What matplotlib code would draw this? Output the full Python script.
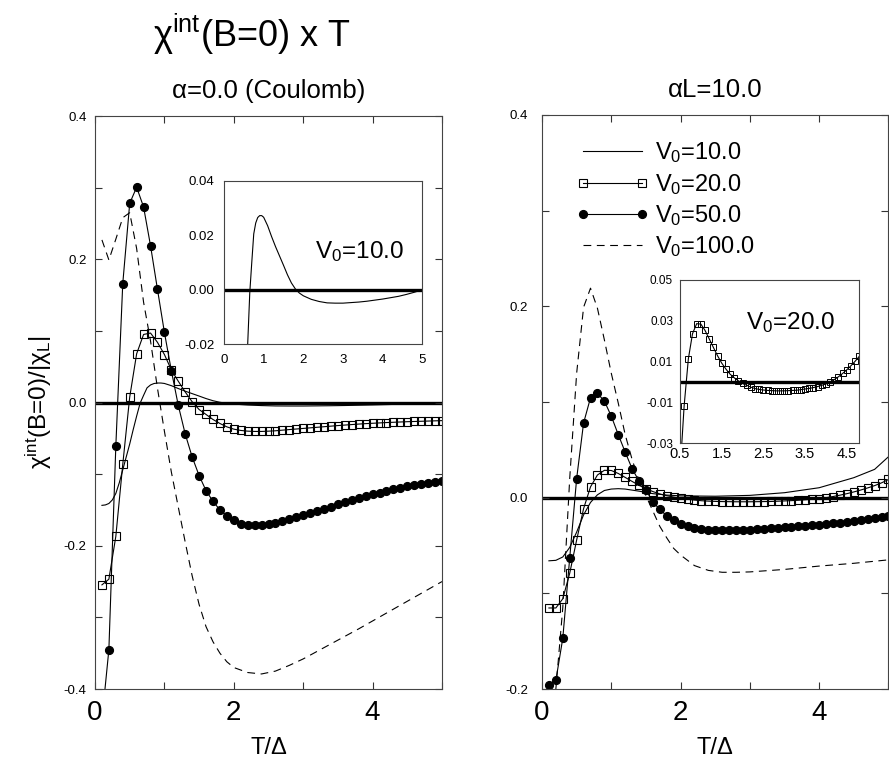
import matplotlib
matplotlib.use('Agg')
import matplotlib.pyplot as plt
from matplotlib.ticker import MultipleLocator, FixedLocator

plt.rcParams['font.family'] = ['Liberation Sans', 'DejaVu Sans']
plt.rcParams['mathtext.fontset'] = 'custom'
plt.rcParams['mathtext.rm'] = 'Liberation Sans'
plt.rcParams['mathtext.it'] = 'Liberation Sans:italic'
plt.rcParams['mathtext.default'] = 'rm'

# ---------------- data ----------------
T = [0.1, 0.2, 0.3, 0.4, 0.5, 0.6, 0.7, 0.8, 0.9, 1.0,
     1.1, 1.2, 1.3, 1.4, 1.5, 1.6, 1.7, 1.8, 1.9, 2.0,
     2.1, 2.2, 2.3, 2.4, 2.5, 2.6, 2.7, 2.8, 2.9, 3.0,
     3.1, 3.2, 3.3, 3.4, 3.5, 3.6, 3.7, 3.8, 3.9, 4.0,
     4.1, 4.2, 4.3, 4.4, 4.5, 4.6, 4.7, 4.8, 4.9, 5.0]

# alpha = 0.0 (Coulomb)
T_c10 = [0.1, 0.15, 0.2, 0.25, 0.3, 0.35, 0.4, 0.45, 0.5, 0.55, 0.6, 0.65, 0.7,
         0.75, 0.8, 0.85, 0.9, 0.95, 1.0, 1.1, 1.2, 1.3, 1.4, 1.5, 1.6, 1.7, 1.8,
         1.9, 2.0, 2.2, 2.4, 2.6, 2.8, 3.0, 3.2, 3.4, 3.6, 3.8, 4.0, 4.2, 4.4,
         4.6, 4.8, 5.0]
c_v10 = [-0.1436, -0.143, -0.141, -0.136, -0.127, -0.112, -0.094, -0.076, -0.058,
         -0.038, -0.019, -0.001, 0.010, 0.0205, 0.0245, 0.0265, 0.0272, 0.0272,
         0.0266, 0.0235, 0.0195, 0.0158, 0.0124, 0.009, 0.0055, 0.0025, 0.0003,
         -0.0012, -0.0022, -0.0035, -0.0043, -0.0048, -0.0049, -0.0049, -0.0047,
         -0.0045, -0.0042, -0.0038, -0.0034, -0.0029, -0.0024, -0.0017, -0.0009, 0.0]
c_v20 = [-0.2546, -0.2467, -0.187, -0.0864, 0.0075, 0.068, 0.095, 0.097, 0.084, 0.067,
         0.0455, 0.0297, 0.0147, 0.001, -0.0098, -0.0167, -0.0237, -0.0293, -0.034, -0.0372,
         -0.039, -0.040, -0.0404, -0.0404, -0.040, -0.0395, -0.0386, -0.0378, -0.037, -0.0362,
         -0.0354, -0.0346, -0.0338, -0.033, -0.0322, -0.0315, -0.0308, -0.0301, -0.0295, -0.029,
         -0.0285, -0.028, -0.0276, -0.0272, -0.0268, -0.0265, -0.0262, -0.0259, -0.0256, -0.0253]
c_v50 = [-0.443, -0.345, -0.061, 0.166, 0.278, 0.3006, 0.273, 0.219, 0.158, 0.098,
         0.0445, -0.004, -0.044, -0.076, -0.102, -0.123, -0.138, -0.150, -0.158, -0.164,
         -0.169, -0.171, -0.1714, -0.1710, -0.1697, -0.1678, -0.1655, -0.1630, -0.1603, -0.1574,
         -0.1544, -0.1514, -0.1484, -0.1454, -0.1424, -0.1394, -0.1365, -0.1337, -0.1310, -0.1284,
         -0.1259, -0.1235, -0.1212, -0.1190, -0.1170, -0.1152, -0.1136, -0.1121, -0.1107, -0.1094]
T_c100 = [0.1, 0.2, 0.3, 0.4, 0.5, 0.6, 0.7, 0.8, 0.9, 1.0, 1.1, 1.2, 1.3, 1.4, 1.5,
          1.6, 1.7, 1.8, 1.9, 2.0, 2.2, 2.4, 2.6, 2.8, 3.0, 3.4, 3.8, 4.2, 4.6, 5.0]
c_v100 = [0.227, 0.199, 0.228, 0.258, 0.265, 0.215, 0.140, 0.086, 0.020, -0.040,
          -0.097, -0.146, -0.195, -0.242, -0.282, -0.313, -0.334, -0.350, -0.362, -0.370,
          -0.377, -0.379, -0.375, -0.367, -0.358, -0.337, -0.316, -0.294, -0.272, -0.250]

# alpha L = 10.0
T_l10 = [0.1, 0.2, 0.3, 0.4, 0.5, 0.6, 0.7, 0.8, 0.9, 1.0, 1.1, 1.2, 1.4, 1.6, 1.8,
         2.0, 2.5, 3.0, 3.5, 4.0, 4.5, 4.8, 5.0]
l_v10 = [-0.066, -0.0655, -0.062, -0.052, -0.036, -0.018, -0.005, 0.003, 0.0075, 0.009,
         0.0094, 0.009, 0.0068, 0.0042, 0.0027, 0.0019, 0.0015, 0.0024, 0.0052, 0.0104,
         0.0209, 0.0296, 0.0428]
l_v20 = [-0.1153, -0.1153, -0.1057, -0.079, -0.0443, -0.0115, 0.0113, 0.0237, 0.0286, 0.0284,
         0.0253, 0.0212, 0.017, 0.0129, 0.0093, 0.0064, 0.0039, 0.0021, 0.0006, -0.0007,
         -0.0016, -0.0025, -0.0032, -0.0036, -0.0039, -0.0041, -0.0042, -0.0043, -0.0043, -0.0043,
         -0.0042, -0.0041, -0.0040, -0.0037, -0.0034, -0.0031, -0.0027, -0.0022, -0.0016, -0.0009,
         0.0, 0.0012, 0.0026, 0.0042, 0.006, 0.008, 0.0102, 0.0126, 0.0155, 0.019]
l_v50 = [-0.1957, -0.191, -0.147, -0.063, 0.020, 0.078, 0.1044, 0.109, 0.101, 0.0852,
         0.066, 0.0477, 0.0303, 0.0174, 0.008, -0.0046, -0.0122, -0.019, -0.0234, -0.0279,
         -0.030, -0.0317, -0.0328, -0.0334, -0.0338, -0.0341, -0.0341, -0.0338, -0.0336, -0.0334,
         -0.033, -0.0326, -0.0321, -0.0316, -0.0311, -0.0306, -0.0301, -0.0296, -0.029, -0.0284,
         -0.0277, -0.027, -0.0262, -0.0254, -0.0246, -0.0237, -0.0227, -0.0217, -0.0205, -0.0192]
T_l100 = [0.1, 0.2, 0.3, 0.4, 0.5, 0.6, 0.7, 0.8, 0.9, 1.0, 1.1, 1.2, 1.3, 1.4, 1.5,
          1.6, 1.7, 1.8, 1.9, 2.0, 2.2, 2.4, 2.6, 2.8, 3.0, 3.5, 4.0, 4.5, 5.0]
l_v100 = [-0.23, -0.2, -0.115, 0.02, 0.13, 0.199, 0.219, 0.198, 0.165, 0.130,
          0.099, 0.066, 0.040, 0.018, 0.002, -0.014, -0.030, -0.042, -0.053, -0.060,
          -0.071, -0.076, -0.078, -0.078, -0.0776, -0.075, -0.0715, -0.0686, -0.065]

legend_labels = [r'V$_0$=10.0', r'V$_0$=20.0', r'V$_0$=50.0', r'V$_0$=100.0']

# ---------------- figure ----------------
fig = plt.figure(figsize=(8.89, 7.66), dpi=100)
axL = fig.add_axes([0.10686, 0.10052, 0.39033, 0.74804])
axR = fig.add_axes([0.60967, 0.10052, 0.38976, 0.74935])

LW = 0.8
sq = dict(marker='s', markersize=6, markerfacecolor='none', markeredgecolor='black',
          markeredgewidth=0.8)
ci = dict(marker='o', markersize=5.6, markerfacecolor='black', markeredgecolor='black')
dash = (0, (7, 5))


def style_main(ax, ylim, pad):
    ax.set_xlim(0, 5)
    ax.set_ylim(*ylim)
    ax.xaxis.set_major_locator(FixedLocator([0, 2, 4]))
    ax.xaxis.set_minor_locator(FixedLocator([1, 3, 5]))
    ax.yaxis.set_major_locator(MultipleLocator(0.2))
    ax.yaxis.set_minor_locator(MultipleLocator(0.1))
    ax.yaxis.set_major_formatter(matplotlib.ticker.FormatStrFormatter('%.1f'))
    ax.tick_params(which='both', direction='in', top=True, right=True,
                   length=5, width=0.8, color='#333333')
    ax.tick_params(axis='x', which='major', labelsize=20, pad=8)
    ax.tick_params(axis='y', which='major', labelsize=9.5, pad=pad)
    for s in ax.spines.values():
        s.set_linewidth(0.8)
        s.set_color('#444444')
    ax.axhline(0, color='black', lw=2.4, zorder=1)
    ax.set_xlabel('T/Δ', fontsize=17, labelpad=8)


# Left panel
axL.plot(T_c10, c_v10, color='black', lw=LW, label=legend_labels[0])
axL.plot(T, c_v20, color='black', lw=LW, label=legend_labels[1], **sq)
axL.plot(T, c_v50, color='black', lw=LW, label=legend_labels[2], **ci)
axL.plot(T_c100, c_v100, color='black', lw=LW, linestyle=dash, label=legend_labels[3])
style_main(axL, (-0.4, 0.4), 6)
axL.set_ylabel(r'$\chi^{int}$(B=0)/|$\chi_L$|', fontsize=17.5, labelpad=7)
axL.set_title('α=0.0 (Coulomb)', fontsize=18.5, pad=13)

# Right panel
axR.plot(T_l10, l_v10, color='black', lw=LW, label=legend_labels[0])
axR.plot(T, l_v20, color='black', lw=LW, label=legend_labels[1], **sq)
axR.plot(T, l_v50, color='black', lw=LW, label=legend_labels[2], **ci)
axR.plot(T_l100, l_v100, color='black', lw=LW, linestyle=dash, label=legend_labels[3])
style_main(axR, (-0.2, 0.4), 10)
axR.set_title('αL=10.0', fontsize=18.5, pad=13)

leg = axR.legend(loc='upper left', bbox_to_anchor=(0.648, 0.8165),
                 bbox_transform=fig.transFigure, frameon=False, fontsize=17,
                 numpoints=2, handlelength=3.1, handletextpad=0.25,
                 labelspacing=0.27, borderpad=0, borderaxespad=0)

# Title
fig.text(0.283, 1 - 47 / 766, r'$\chi^{int}$(B=0) x T', fontsize=26,
         ha='center', va='baseline')

# Left inset
insL = fig.add_axes([0.25197, 0.55050, 0.22306, 0.21358])
insL.plot(T_c10, c_v10, color='black', lw=LW)
insL.axhline(0, color='black', lw=2.4)
insL.set_xlim(0, 5)
insL.set_ylim(-0.02, 0.04)
insL.set_xticks([0, 1, 2, 3, 4, 5])
insL.set_yticks([-0.02, 0.0, 0.02, 0.04])
insL.yaxis.set_major_formatter(matplotlib.ticker.FormatStrFormatter('%.2f'))
insL.tick_params(length=0, labelsize=9.5, pad=7)
for s in insL.spines.values():
    s.set_linewidth(0.8)
    s.set_color('#444444')
insL.text(0.46, 0.57, r'V$_0$=10.0', transform=insL.transAxes, fontsize=17.5,
          ha='left', va='center')

# Right inset
insR = fig.add_axes([0.76490, 0.42128, 0.20169, 0.21319])
insR.plot(T, l_v20, color='black', lw=LW, marker='s', markersize=4.5,
          markerfacecolor='none', markeredgecolor='black', markeredgewidth=0.7)
insR.axhline(0, color='black', lw=2.4)
insR.set_xlim(0.5, 4.8)
insR.set_ylim(-0.03, 0.05)
insR.set_xticks([0.5, 1.5, 2.5, 3.5, 4.5])
insR.set_yticks([-0.03, -0.01, 0.01, 0.03, 0.05])
insR.yaxis.set_major_formatter(matplotlib.ticker.FormatStrFormatter('%.2f'))
insR.tick_params(axis='x', length=0, labelsize=10.5, pad=3)
insR.tick_params(axis='y', length=0, labelsize=8.5, pad=5)
for s in insR.spines.values():
    s.set_linewidth(0.8)
    s.set_color('#444444')
insR.text(0.37, 0.74, r'V$_0$=20.0', transform=insR.transAxes, fontsize=17.5,
          ha='left', va='center')

fig.savefig('out.png', dpi=100)
